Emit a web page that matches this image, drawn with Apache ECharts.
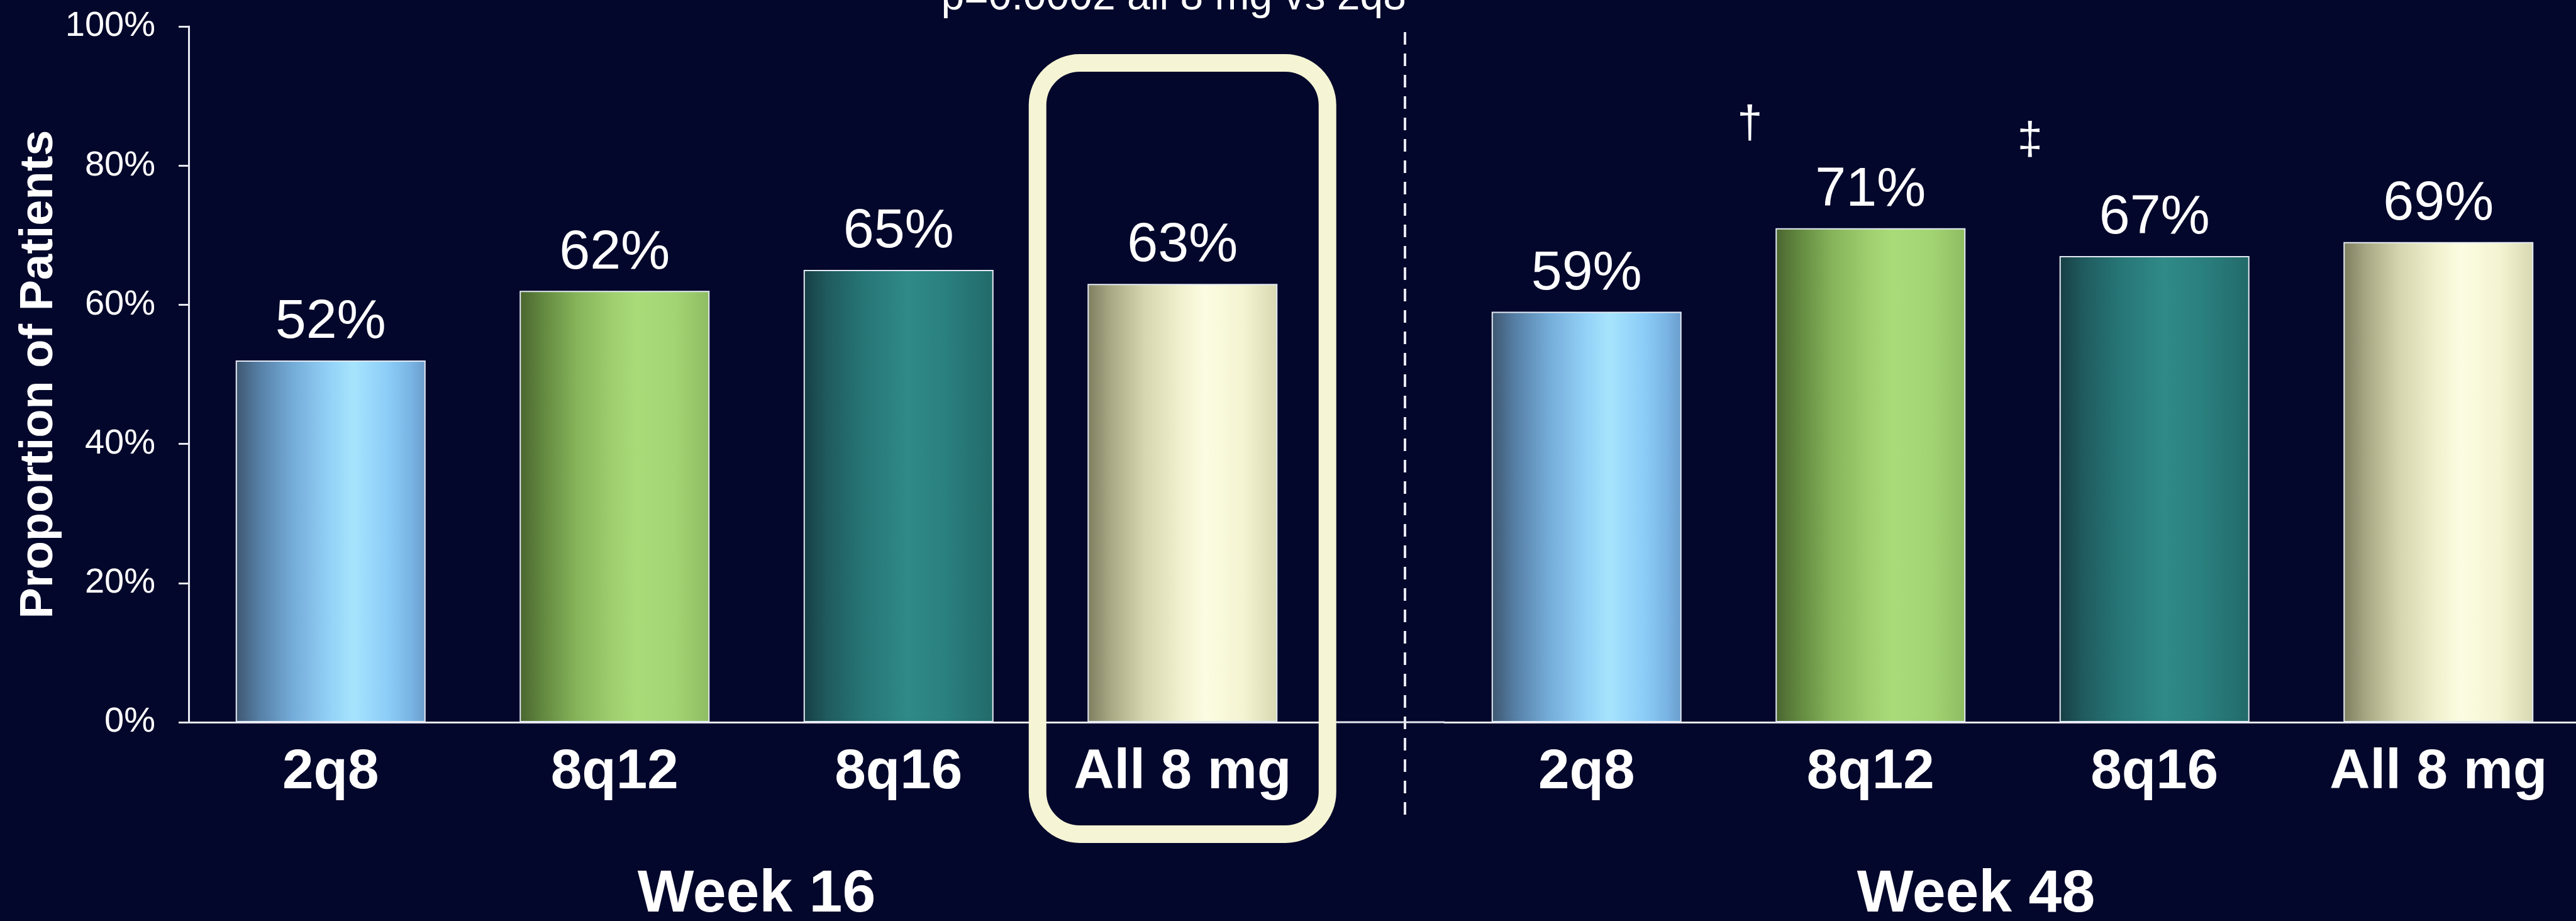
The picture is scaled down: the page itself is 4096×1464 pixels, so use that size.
<!DOCTYPE html>
<html>
<head>
<meta charset="utf-8">
<title>Proportion of Patients</title>
<script src="https://cdn.jsdelivr.net/npm/echarts@6/dist/echarts.min.js"></script>
<style>
  html, body { margin: 0; padding: 0; background: #03072b; }
  #chart { width: 4096px; height: 1464px; }
</style>
</head>
<body>
<div id="chart"></div>
<script>
// ---- data ----
const doses = ['2q8', '8q12', '8q16', 'All 8 mg'];
const week16 = [52, 62, 65, 63];
const week48 = [59, 71, 67, 69];
const periods = ['Week 16', 'Week 48'];
const yTickStep = 20;
const yMax = 100;
const pValueNote = 'p=0.0002 all 8 mg vs 2q8';
const footnoteDoses = ['8q12', '8q16'];
const footnoteMarks = ['\u2020', '\u2021'];

// ---- styling ----
const FONT = "'Liberation Sans', Arial, Helvetica, sans-serif";
const BG = '#03072b';
const AXIS = '#e6e8f2';
const BOX = '#f5f4d4';

function hGrad(stops) {
  return {
    type: 'linear', x: 0, y: 0, x2: 1, y2: 0,
    colorStops: stops.map(([o, c]) => ({ offset: o, color: c }))
  };
}
const doseFill = [
  hGrad([[0, '#3e5670'], [0.12, '#557ea4'], [0.3, '#74acd8'], [0.5, '#94d2f8'], [0.62, '#a6e4fd'], [0.8, '#8ccdf8'], [0.93, '#78b2e2'], [1, '#6a9ccb']]),
  hGrad([[0, '#4a6530'], [0.12, '#62883f'], [0.3, '#86b45a'], [0.5, '#a0d070'], [0.62, '#a9dc79'], [0.82, '#a2d473'], [1, '#8ebc62']]),
  hGrad([[0, '#163e44'], [0.12, '#1f5a5e'], [0.32, '#277676'], [0.55, '#2f8a88'], [0.75, '#2a807e'], [1, '#226a6a']]),
  hGrad([[0, '#7e7e60'], [0.12, '#a8a884'], [0.3, '#d6d6b0'], [0.5, '#f2f2d0'], [0.62, '#fcfce2'], [0.82, '#f4f4d2'], [1, '#d8d8b2']])
];

// ---- layout (px) ----
const GRID_TOP = 42;
const AXIS_Y = 1148;
const GRID_BOTTOM = 1464 - AXIS_Y;
const LEFT_X = 300, RIGHT_X = 2297, GRID_W = 1806;

const chart = echarts.init(document.getElementById('chart'), null, { renderer: 'canvas' });

function xAxisFor(i) {
  return {
    type: 'category', gridIndex: i, data: doses,
    axisLine: { show: true, lineStyle: { color: AXIS, width: 3 } },
    axisTick: { show: false },
    axisLabel: { interval: 0, fontFamily: FONT, fontSize: 89, fontWeight: 'bold', color: '#ffffff', margin: 36 },
    splitLine: { show: false },
    name: periods[i], nameLocation: 'middle', nameGap: 227,
    nameTextStyle: {
      fontFamily: FONT, fontSize: 95, fontWeight: 'bold', color: '#ffffff',
      padding: i === 1 ? [0, 116, 0, 0] : 0
    }
  };
}

function yAxisFor(i) {
  const shown = i === 0;
  return {
    type: 'value', gridIndex: i, min: 0, max: yMax, interval: yTickStep,
    show: shown,
    axisLine: { show: true, lineStyle: { color: AXIS, width: 3 } },
    axisTick: { show: true, inside: false, length: 16, lineStyle: { color: AXIS, width: 3 } },
    axisLabel: { formatter: '{value}%', fontFamily: FONT, fontSize: 56, color: '#ffffff', margin: 53 },
    splitLine: { show: false },
    name: shown ? 'Proportion of Patients' : '',
    nameLocation: 'middle', nameRotate: 90, nameGap: 198,
    nameTextStyle: { fontFamily: FONT, fontSize: 74, fontWeight: 'bold', color: '#ffffff' }
  };
}

function barSeries(i, values) {
  return {
    type: 'bar', xAxisIndex: i, yAxisIndex: i,
    barWidth: 302,
    data: values.map((v, k) => ({ value: v, itemStyle: { color: doseFill[k] } })),
    itemStyle: { borderColor: '#e4eaf4', borderWidth: 2 },
    label: {
      show: true, position: 'top', distance: 16, formatter: '{c}%',
      fontFamily: FONT, fontSize: 88, color: '#ffffff'
    },
    emphasis: { disabled: true },
    z: 3
  };
}

chart.setOption({
  backgroundColor: BG,
  animation: false,
  grid: [
    { left: LEFT_X, top: GRID_TOP, width: GRID_W, bottom: GRID_BOTTOM, outerBoundsMode: 'none' },
    { left: RIGHT_X, top: GRID_TOP, width: GRID_W, bottom: GRID_BOTTOM, outerBoundsMode: 'none' }
  ],
  xAxis: [xAxisFor(0), xAxisFor(1)],
  yAxis: [yAxisFor(0), yAxisFor(1)],
  series: [barSeries(0, week16), barSeries(1, week48)]
});

// ---- annotations positioned from the axes ----
const boxCenter = chart.convertToPixel({ xAxisIndex: 0, yAxisIndex: 0 }, [doses[3], 0]);
const graphics = [];

// rounded highlight around the Week 16 "All 8 mg" column
graphics.push({
  type: 'rect', z: 100,
  shape: { x: boxCenter[0] - 230.5, y: 100, width: 461, height: 1226, r: 67 },
  style: { fill: null, stroke: BOX, lineWidth: 28 }
});

// p-value note above the highlight
graphics.push({
  type: 'text', z: 100,
  style: {
    text: pValueNote, x: boxCenter[0] - 14, y: 30,
    textAlign: 'center', textVerticalAlign: 'bottom',
    font: '66px ' + FONT, fill: '#ffffff'
  }
});

// dashed divider between the two time points
graphics.push({
  type: 'line', z: 100,
  shape: { x1: 2234, y1: 51, x2: 2234, y2: 1304 },
  style: { stroke: AXIS, lineWidth: 4, lineDash: [20, 14] }
});

// baseline continues across the divider
graphics.push({
  type: 'line', z: 1,
  shape: { x1: LEFT_X + GRID_W, y1: AXIS_Y, x2: RIGHT_X, y2: AXIS_Y },
  style: { stroke: AXIS, lineWidth: 3 }
});

// footnote marks beside the Week 48 columns
const markOffsets = [[-192, -165], [-198, -183]];
footnoteDoses.forEach((d, k) => {
  const idx = doses.indexOf(d);
  const p = chart.convertToPixel({ xAxisIndex: 1, yAxisIndex: 1 }, [d, week48[idx]]);
  graphics.push({
    type: 'text', z: 100,
    style: {
      text: footnoteMarks[k], x: p[0] + markOffsets[k][0], y: p[1] + markOffsets[k][1],
      textAlign: 'center', textVerticalAlign: 'middle',
      font: '72px ' + FONT, fill: '#ffffff'
    }
  });
});

chart.setOption({ graphic: graphics });
</script>
</body>
</html>
